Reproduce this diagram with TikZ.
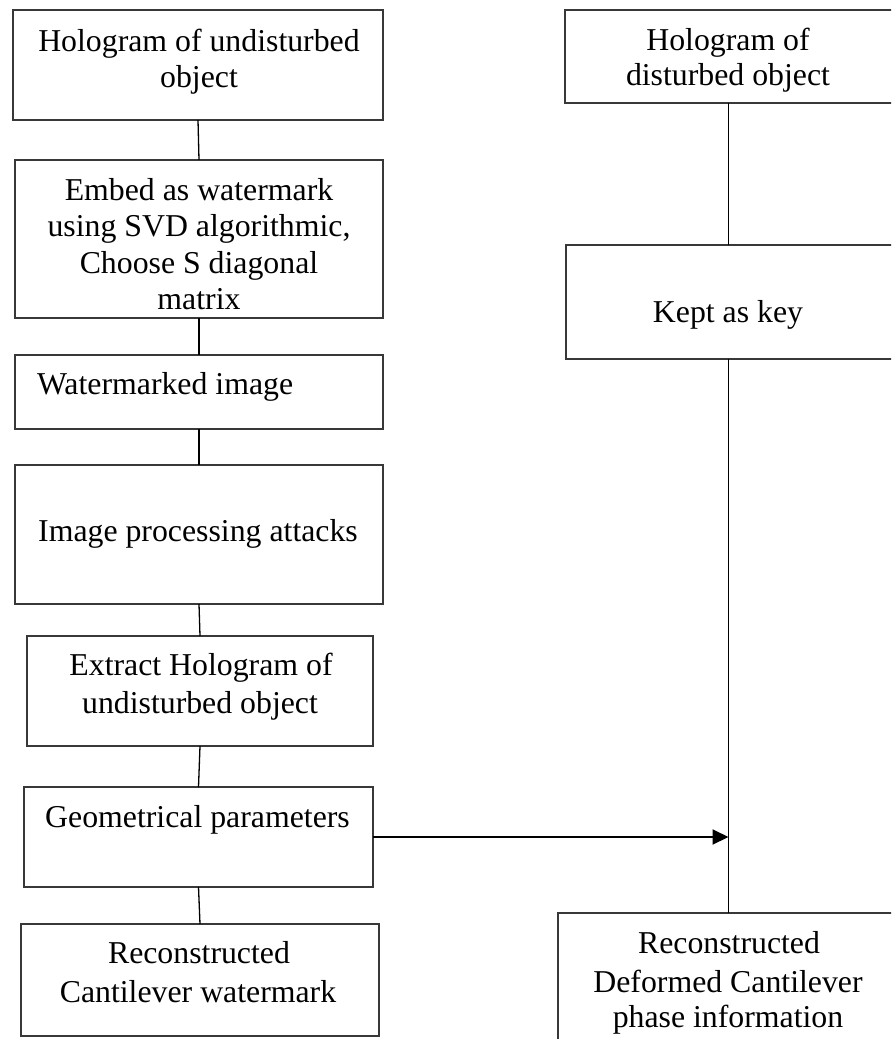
\documentclass[tikz,border=0pt]{standalone}
\usepackage{fontspec}
\setmainfont{Liberation Serif}
\usetikzlibrary{arrows.meta}
\begin{document}
\begin{tikzpicture}[x=0.5pt,y=-0.5pt,
  boxnode/.style={draw=black!78, line width=0.7pt, rectangle, inner sep=0pt, outer sep=0pt},
  txt/.style={inner sep=0pt, outer sep=0pt, anchor=base, font=\fontsize{15.9pt}{18pt}\selectfont},
  link/.style={draw=black, line width=0.65pt},
  flow/.style={draw=black, line width=1pt, -{Triangle[length=8pt,width=7.5pt]}}]
\useasboundingbox (0,0) rectangle (891,1039);
\clip (0,0) rectangle (891,1039);
\fill[white] (0,0) rectangle (891,1039);
% left column boxes
\node[boxnode, minimum width=185pt, minimum height=55pt] (b1) at (198,65) {};
\node[boxnode, minimum width=184pt, minimum height=79pt] (b2) at (199,239) {};
\node[boxnode, minimum width=184pt, minimum height=37pt] (b3) at (199,392) {};
\node[boxnode, minimum width=184pt, minimum height=69.5pt] (b4) at (199,534.5) {};
\node[boxnode, minimum width=173pt, minimum height=55pt] (b5) at (200,691) {};
\node[boxnode, minimum width=174.5pt, minimum height=50pt] (b6) at (198.5,837) {};
\node[boxnode, minimum width=179pt, minimum height=56pt] (b7) at (200,980) {};
% right column boxes (they run past the right edge of the picture)
\node[boxnode, minimum width=200pt, minimum height=46.5pt] (r1) at (765,56.5) {};
\node[boxnode, minimum width=200pt, minimum height=57pt] (r2) at (766,302) {};
\node[boxnode, minimum width=200pt, minimum height=68.5pt] (r3) at (758,981.5) {};
% texts
\node[txt] (t1a) at (199,51) {Hologram of undisturbed};
\node[txt] (t1b) at (199,87) {object};
\node[txt] (t2a) at (199,200) {Embed as watermark};
\node[txt] (t2b) at (199,236.5) {using SVD algorithmic,};
\node[txt] (t2c) at (199,273) {Choose S diagonal};
\node[txt] (t2d) at (199,309.5) {matrix};
\node[txt, anchor=base west] (t3) at (37,394) {Watermarked image};
\node[txt] (t4) at (198,541) {Image processing attacks};
\node[txt] (t5a) at (201,675) {Extract Hologram of};
\node[txt] (t5b) at (200,713) {undisturbed object};
\node[txt] (t6) at (197.5,827) {Geometrical parameters};
\node[txt] (t7a) at (199,963) {Reconstructed};
\node[txt] (t7b) at (198,1002) {Cantilever watermark};
\node[txt] (u1a) at (728,50) {Hologram of};
\node[txt] (u1b) at (728,85) {disturbed object};
\node[txt] (u2) at (728,322) {Kept as key};
\node[txt] (u3a) at (729,953) {Reconstructed};
\node[txt] (u3b) at (728,992) {Deformed Cantilever};
\node[txt] (u3c) at (728,1027) {phase information};
% connectors
\coordinate (rx) at (728.5,0);
\draw[link] (b1.south) -- (b2.north);
\draw[link] (b2.south) -- (b3.north);
\draw[link] (b3.south) -- (b4.north);
\draw[link] (b4.south) -- (b5.north);
\draw[link] (b5.south) -- (b6.north);
\draw[link] (b6.south) -- (b7.north);
\draw[link] (r1.south -| rx) -- (r2.north -| rx);
\draw[link] (r2.south -| rx) -- (r3.north -| rx);
\coordinate (hit) at (b6.east -| rx);
\draw[flow] (b6.east) -- (hit);
\end{tikzpicture}
\end{document}
